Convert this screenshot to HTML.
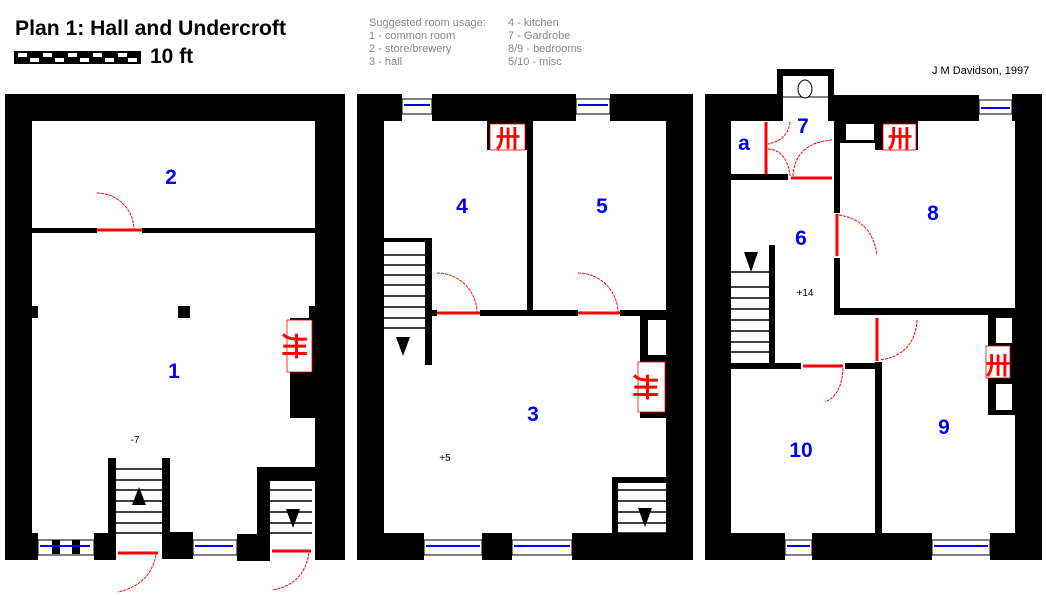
<!DOCTYPE html>
<html><head><meta charset="utf-8"><style>
body{margin:0;background:#fff;width:1046px;height:598px;overflow:hidden}
svg{display:block}
.t{font-family:"Liberation Sans",sans-serif}
.n{font-family:"Liberation Sans",sans-serif;font-weight:bold;fill:#0000ee;font-size:21px;text-anchor:middle}
.g{font-family:"Liberation Sans",sans-serif;fill:#888;font-size:11px}
.arc{fill:none;stroke:#f00;stroke-width:1;stroke-dasharray:3,1}
.st{stroke:#000;stroke-width:1.5}
</style></head><body>
<svg width="1046" height="598" viewBox="0 0 1046 598">
<text x="15" y="35" class="t" font-size="21" font-weight="bold" textLength="271" lengthAdjust="spacingAndGlyphs">Plan 1: Hall and Undercroft</text>
<rect x="14" y="51" width="127" height="13" fill="#000"/>
<g fill="#fff">
<rect x="18" y="53" width="9" height="4"/><rect x="43" y="53" width="9" height="4"/><rect x="68" y="53" width="9" height="4"/><rect x="93" y="53" width="9" height="4"/><rect x="118" y="53" width="9" height="4"/>
<rect x="30" y="58" width="9" height="4"/><rect x="55" y="58" width="9" height="4"/><rect x="80" y="58" width="9" height="4"/><rect x="105" y="58" width="9" height="4"/><rect x="128" y="58" width="9" height="4"/>
</g>
<text x="150" y="63" class="t" font-size="21" font-weight="bold">10 ft</text>
<text x="369" y="26" class="g">Suggested room usage:</text>
<text x="369" y="39" class="g">1 - common room</text>
<text x="369" y="52" class="g">2 - store/brewery</text>
<text x="369" y="65" class="g">3 - hall</text>
<text x="508" y="26" class="g">4 - kitchen</text>
<text x="508" y="39" class="g">7 - Gardrobe</text>
<text x="508" y="52" class="g">8/9 - bedrooms</text>
<text x="508" y="65" class="g">5/10 - misc</text>
<text x="932" y="74" class="t" font-size="11">J M Davidson, 1997</text>

<!-- PLAN 1 -->
<g fill="#000">
<rect x="5" y="94" width="340" height="27"/>
<rect x="5" y="94" width="27" height="466"/>
<rect x="315" y="94" width="30" height="466"/>
<rect x="5" y="533" width="33" height="27"/>
<rect x="32" y="228" width="65" height="5"/><rect x="142" y="228" width="173" height="5"/>
<rect x="178" y="306" width="12" height="12"/>
<rect x="32" y="306" width="6" height="12"/><rect x="309" y="306" width="6" height="12"/>
<rect x="290" y="318" width="25" height="100"/>
<rect x="94" y="533" width="22" height="27"/>
<rect x="108" y="458" width="8" height="95"/><rect x="162" y="458" width="8" height="95"/>
<rect x="162" y="532" width="31" height="27"/>
<rect x="237" y="534" width="32" height="27"/>
<rect x="257" y="467" width="13" height="94"/><rect x="257" y="467" width="58" height="14"/>
<rect x="52" y="540" width="8" height="14"/><rect x="72" y="540" width="8" height="14"/>
</g>
<rect x="287" y="320" width="25" height="52" fill="#fff" stroke="#f00" stroke-width="0.8"/>
<text x="299" y="360" fill="#f00" font-size="26" font-weight="bold" text-anchor="middle" class="t" transform="rotate(90 299 346)">卅</text>
<line x1="97" y1="230" x2="142" y2="230" stroke="#f00" stroke-width="3"/>
<path class="arc" d="M97 193 A37 37 0 0 1 134 230"/>
<g class="st"><line x1="116" y1="469" x2="162" y2="469"/><line x1="116" y1="480" x2="162" y2="480"/><line x1="116" y1="490" x2="162" y2="490"/><line x1="116" y1="501" x2="162" y2="501"/><line x1="116" y1="512" x2="162" y2="512"/><line x1="116" y1="523" x2="162" y2="523"/><line x1="116" y1="533" x2="162" y2="533"/>
<line x1="270" y1="490" x2="312" y2="490"/><line x1="270" y1="501" x2="312" y2="501"/><line x1="270" y1="512" x2="312" y2="512"/><line x1="270" y1="523" x2="312" y2="523"/><line x1="270" y1="533" x2="312" y2="533"/></g>
<polygon points="139,487 132,505 146,505" fill="#000"/>
<polygon points="286,509 300,509 293,528" fill="#000"/>
<line x1="118" y1="553" x2="158" y2="553" stroke="#f00" stroke-width="3"/>
<line x1="272" y1="551" x2="311" y2="551" stroke="#f00" stroke-width="3"/>
<path class="arc" d="M156 555 Q150 585 118 592"/><path class="arc" d="M309 553 Q304 585 272 590"/>
<g stroke="#00f" stroke-width="2"><line x1="40" y1="546" x2="90" y2="546"/><line x1="195" y1="546" x2="233" y2="546"/></g>
<g stroke="#000" fill="none" stroke-width="1"><rect x="38" y="540" width="56" height="15"/><rect x="193" y="540" width="44" height="15"/></g>
<text x="135" y="443" class="t" font-size="10" text-anchor="middle">-7</text>
<text x="171" y="184" class="n">2</text>
<text x="174" y="378" class="n">1</text>

<!-- PLAN 2 -->
<g fill="#000">
<rect x="357" y="94" width="45" height="27"/><rect x="432" y="94" width="144" height="27"/><rect x="610" y="94" width="83" height="27"/>
<rect x="357" y="94" width="27" height="466"/><rect x="666" y="94" width="27" height="466"/>
<rect x="487" y="121" width="41" height="29"/>
<rect x="527" y="121" width="6" height="192"/>
<rect x="430" y="310" width="7" height="6"/><rect x="480" y="310" width="98" height="6"/><rect x="620" y="310" width="46" height="6"/>
<rect x="425" y="238" width="7" height="127"/><rect x="384" y="238" width="48" height="4"/>
<rect x="640" y="313" width="26" height="105"/>
<rect x="357" y="533" width="67" height="27"/><rect x="482" y="533" width="30" height="27"/><rect x="572" y="533" width="94" height="27"/>
<rect x="612" y="477" width="54" height="6"/><rect x="612" y="477" width="6" height="60"/>
</g>
<rect x="648" y="320" width="18" height="35" fill="#fff"/>
<rect x="638" y="362" width="27" height="50" fill="#fff" stroke="#f00" stroke-width="0.8"/>
<text x="651" y="402" fill="#f00" font-size="26" font-weight="bold" text-anchor="middle" class="t" transform="rotate(90 651 387)">卅</text>
<rect x="490" y="124" width="35" height="26" fill="#fff" stroke="#f00" stroke-width="0.8"/>
<text x="508" y="147" fill="#f00" font-size="24" font-weight="bold" text-anchor="middle" class="t">卅</text>
<g stroke="#00f" stroke-width="2"><line x1="404" y1="105" x2="430" y2="105"/><line x1="578" y1="105" x2="608" y2="105"/><line x1="426" y1="546" x2="480" y2="546"/><line x1="514" y1="546" x2="570" y2="546"/></g>
<g stroke="#000" fill="none"><rect x="402" y="99" width="30" height="15"/><rect x="576" y="99" width="34" height="15"/><rect x="424" y="540" width="58" height="15"/><rect x="512" y="540" width="60" height="15"/></g>
<g class="st"><line x1="384" y1="255" x2="425" y2="255"/><line x1="384" y1="265" x2="425" y2="265"/><line x1="384" y1="275" x2="425" y2="275"/><line x1="384" y1="285" x2="425" y2="285"/><line x1="384" y1="296" x2="425" y2="296"/><line x1="384" y1="307" x2="425" y2="307"/><line x1="384" y1="318" x2="425" y2="318"/><line x1="384" y1="328" x2="425" y2="328"/>
<line x1="618" y1="490" x2="666" y2="490"/><line x1="618" y1="501" x2="666" y2="501"/><line x1="618" y1="512" x2="666" y2="512"/><line x1="618" y1="523" x2="666" y2="523"/><line x1="618" y1="533" x2="666" y2="533"/></g>
<polygon points="396,337 410,337 403,356" fill="#000"/>
<polygon points="638,508 652,508 645,527" fill="#000"/>
<g stroke="#f00" stroke-width="3"><line x1="437" y1="313" x2="480" y2="313"/><line x1="578" y1="313" x2="620" y2="313"/></g>
<path class="arc" d="M437 273 A40 40 0 0 1 477 313"/><path class="arc" d="M578 273 A40 40 0 0 1 618 313"/>
<text x="445" y="461" class="t" font-size="10" text-anchor="middle">+5</text>
<text x="462" y="213" class="n">4</text><text x="602" y="213" class="n">5</text><text x="533" y="421" class="n">3</text>

<!-- PLAN 3 -->
<g fill="#000">
<rect x="705" y="94" width="78" height="27"/><rect x="777" y="69" width="57" height="7"/><rect x="777" y="69" width="6" height="52"/><rect x="828" y="69" width="6" height="52"/>
<rect x="834" y="95" width="145" height="26"/><rect x="1012" y="94" width="30" height="27"/>
<rect x="705" y="94" width="26" height="466"/><rect x="1015" y="94" width="27" height="466"/>
<rect x="834" y="121" width="46" height="22"/><rect x="875" y="121" width="43" height="29"/>
<rect x="834" y="121" width="6" height="92"/><rect x="834" y="258" width="6" height="57"/>
<rect x="731" y="174" width="57" height="6"/>
<rect x="834" y="308" width="181" height="7"/>
<rect x="875" y="362" width="7" height="171"/>
<rect x="731" y="363" width="70" height="6"/><rect x="845" y="363" width="37" height="6"/>
<rect x="769" y="245" width="6" height="120"/>
<rect x="988" y="315" width="27" height="100"/>
<rect x="705" y="533" width="80" height="27"/><rect x="812" y="533" width="120" height="27"/><rect x="990" y="533" width="52" height="27"/>
</g>
<rect x="783" y="76" width="45" height="45" fill="#fff"/>
<line x1="783" y1="97" x2="828" y2="97" stroke="#000"/>
<ellipse cx="805" cy="89" rx="7" ry="9" fill="#fff" stroke="#000"/>
<rect x="846" y="124" width="28" height="16" fill="#fff"/>
<rect x="996" y="318" width="16" height="25" fill="#fff"/><rect x="996" y="384" width="16" height="26" fill="#fff"/>
<rect x="883" y="124" width="33" height="26" fill="#fff" stroke="#f00" stroke-width="0.8"/>
<text x="900" y="147" fill="#f00" font-size="24" font-weight="bold" text-anchor="middle" class="t">卅</text>
<rect x="986" y="346" width="24" height="32" fill="#fff" stroke="#f00" stroke-width="0.8"/>
<text x="998" y="374" fill="#f00" font-size="24" font-weight="bold" text-anchor="middle" class="t">卅</text>
<g stroke="#00f" stroke-width="2"><line x1="981" y1="108" x2="1010" y2="108"/><line x1="787" y1="546" x2="810" y2="546"/><line x1="934" y1="546" x2="988" y2="546"/></g>
<g stroke="#000" fill="none"><rect x="979" y="100" width="33" height="14"/><rect x="785" y="540" width="27" height="15"/><rect x="932" y="540" width="58" height="15"/></g>
<g stroke="#f00" stroke-width="3"><line x1="766" y1="122" x2="766" y2="174"/><line x1="791" y1="178" x2="832" y2="178"/><line x1="837" y1="214" x2="837" y2="256"/><line x1="877" y1="318" x2="877" y2="361"/><line x1="803" y1="366" x2="843" y2="366"/></g>
<path class="arc" d="M790 122 Q788 140 768 144"/><path class="arc" d="M768 149 Q787 150 790 176"/><path class="arc" d="M793 176 Q795 143 832 140"/>
<path class="arc" d="M839 215 Q872 220 877 255"/><path class="arc" d="M917 320 Q915 355 880 360"/><path class="arc" d="M843 368 Q842 395 825 402"/>
<g class="st"><line x1="731" y1="272" x2="769" y2="272"/><line x1="731" y1="287" x2="769" y2="287"/><line x1="731" y1="298" x2="769" y2="298"/><line x1="731" y1="309" x2="769" y2="309"/><line x1="731" y1="320" x2="769" y2="320"/><line x1="731" y1="331" x2="769" y2="331"/><line x1="731" y1="342" x2="769" y2="342"/><line x1="731" y1="352" x2="769" y2="352"/></g>
<polygon points="744,252 758,252 751,272" fill="#000"/>
<text x="805" y="296" class="t" font-size="10" text-anchor="middle">+14</text>
<text x="744" y="150" class="n">a</text><text x="803" y="133" class="n">7</text><text x="801" y="245" class="n">6</text><text x="933" y="220" class="n">8</text><text x="944" y="434" class="n">9</text><text x="801" y="457" class="n">10</text>
</svg>
</body></html>
